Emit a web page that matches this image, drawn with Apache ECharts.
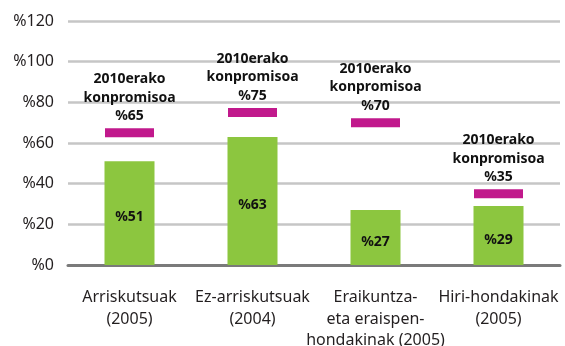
<!DOCTYPE html>
<html>
<head>
<meta charset="utf-8">
<script src="https://cdn.jsdelivr.net/npm/echarts@6/dist/echarts.min.js"></script>
<style>
  html, body { margin: 0; padding: 0; background: #fff; }
  #chart { width: 565px; height: 346px; }
</style>
</head>
<body>
<div id="chart"></div>
<script>
// Waste categories (x axis)
const categories = [
  'Arriskutsuak\n(2005)',
  'Ez-arriskutsuak\n(2004)',
  'Eraikuntza-\neta eraispen-\nhondakinak (2005)',
  'Hiri-hondakinak\n(2005)'
];
// Current recovery rate (%)
const actualValues = [51, 63, 27, 29];
// 2010 commitment targets (%)
const targetValues = [65, 75, 70, 35];
// Y axis ticks
const yMin = 0, yMax = 120, yStep = 20;

const textColor = '#231f20';
const font = 'Noto Sans';

const chart = echarts.init(document.getElementById('chart'), null, { renderer: 'canvas' });
chart.setOption({
  animation: false,
  textStyle: { fontFamily: font },
  grid: {
    left: 68, right: 5, top: 21, bottom: 81,
    containLabel: false, outerBoundsMode: 'none'
  },
  xAxis: {
    type: 'category',
    data: categories,
    axisLine: { show: true, lineStyle: { color: '#7a7a7a', width: 3 } },
    axisTick: { show: false },
    axisLabel: {
      color: textColor, fontFamily: font, fontSize: 16,
      lineHeight: 21.5, margin: 22, interval: 0
    }
  },
  yAxis: {
    type: 'value',
    min: yMin, max: yMax, interval: yStep,
    axisLine: { show: false },
    axisTick: { show: false },
    splitLine: { lineStyle: { color: '#c6c6c6', width: 2.5 } },
    axisLabel: {
      color: textColor, fontFamily: font, fontSize: 16, margin: 14,
      formatter: v => '%' + v
    }
  },
  series: [
    {
      type: 'bar',
      data: actualValues,
      barWidth: 50,
      itemStyle: { color: '#8cc63f' },
      label: {
        show: true, position: 'inside', offset: [0, 4],
        color: '#111', fontFamily: font, fontWeight: 'bold', fontSize: 14,
        formatter: p => '%' + p.value
      },
      z: 2
    },
    {
      type: 'scatter',
      data: targetValues,
      symbol: 'rect',
      symbolSize: [49, 9],
      itemStyle: { color: '#c1198c', opacity: 1 },
      label: {
        show: true, position: 'top', distance: 3,
        color: '#111', fontFamily: font, fontWeight: 'bold', fontSize: 14,
        lineHeight: 18.5, align: 'center',
        formatter: p => '2010erako\nkonpromisoa\n%' + p.value
      },
      z: 3
    }
  ]
});
</script>
</body>
</html>
